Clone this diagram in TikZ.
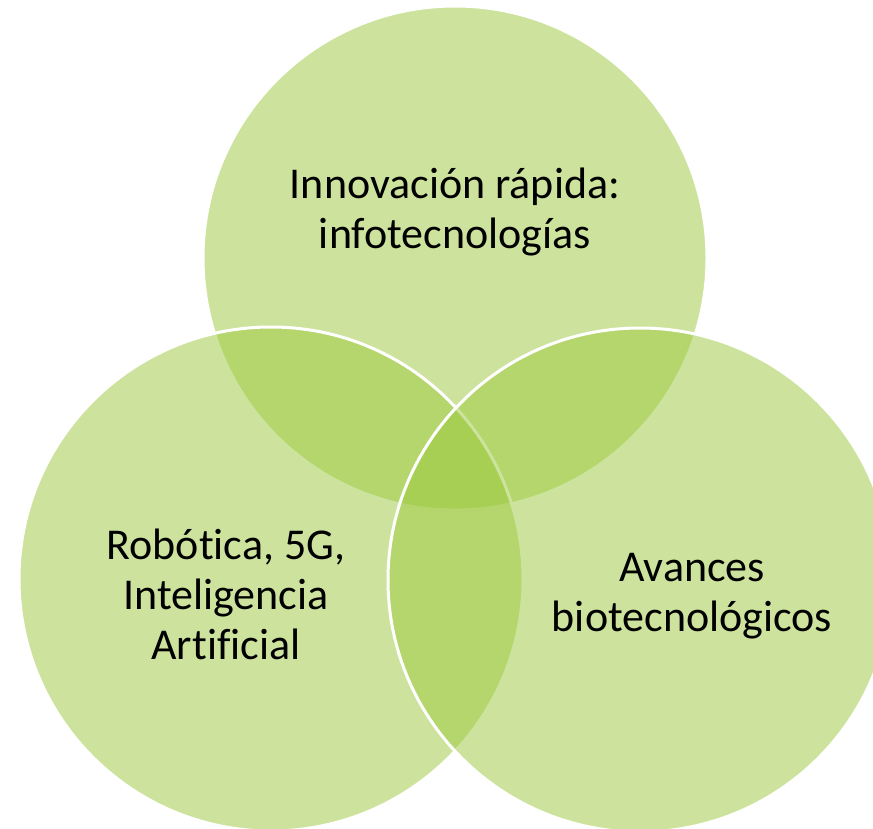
\documentclass[tikz,border=0pt]{standalone}
\usepackage{fontspec}
\setmainfont{Carlito}[Ligatures=NoCommon]
\usepackage{xcolor}
\usepackage{tikz}

\definecolor{verdehoja}{RGB}{155,200,60}

\begin{document}
\begin{tikzpicture}[x=1pt,y=-1pt,
   conjunto/.style={circle,draw=white,line width=3pt,fill=verdehoja,fill opacity=0.5,
      draw opacity=1,minimum size=504pt,inner sep=0pt},
   etiqueta/.style={align=center,font=\fontsize{44}{50}\selectfont,text=black}]

  \useasboundingbox (0,0) rectangle (873,828);
  \clip (0,0) rectangle (873,828);

  \node[conjunto](info) at (455,258) {};
  \node[conjunto](robot) at (271,579) {};
  \node[conjunto](bio) at (640,580) {};

  \node[etiqueta](tinfo) at (455,212) {Innovación rápida:\\infotecnologías};
  \node[etiqueta](trobot) at (226,594) {Robótica, 5G,\\Inteligencia\\Artificial};
  \node[etiqueta](tbio) at (692,596) {Avances\\biotecnológicos};
\end{tikzpicture}
\end{document}
